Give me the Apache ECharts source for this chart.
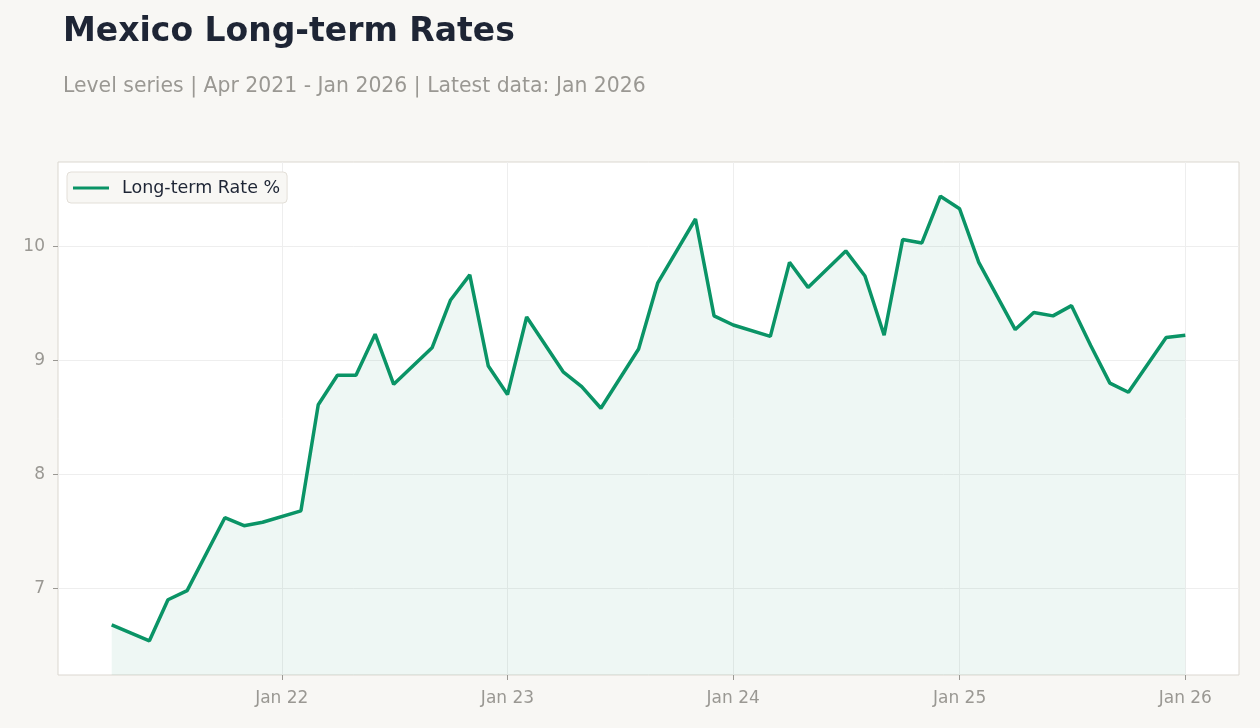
<!DOCTYPE html>
<html>
<head>
<meta charset="utf-8">
<script src="https://cdn.jsdelivr.net/npm/echarts@6/dist/echarts.min.js"></script>
<style>
  html, body { margin: 0; padding: 0; background: #f8f7f4; }
  #chart { width: 1260px; height: 728px; }
</style>
</head>
<body>
<div id="chart"></div>
<script>
// monthly observations (some months absent in the source)
var months = ['2021-04','2021-06','2021-07','2021-08','2021-10','2021-11','2021-12',
  '2022-02','2022-03','2022-04','2022-05','2022-06','2022-07','2022-09','2022-10','2022-11','2022-12',
  '2023-01','2023-02','2023-04','2023-05','2023-06','2023-08','2023-09','2023-11','2023-12',
  '2024-01','2024-03','2024-04','2024-05','2024-07','2024-08','2024-09','2024-10','2024-11','2024-12',
  '2025-01','2025-02','2025-04','2025-05','2025-06','2025-07','2025-08','2025-09','2025-10','2025-12',
  '2026-01'];
var rates = [6.68, 6.54, 6.90, 6.98, 7.62, 7.55, 7.58,
  7.68, 8.61, 8.87, 8.87, 9.23, 8.79, 9.11, 9.53, 9.75, 8.95,
  8.70, 9.38, 8.90, 8.77, 8.58, 9.10, 9.68, 10.24, 9.39,
  9.31, 9.21, 9.86, 9.64, 9.96, 9.74, 9.22, 10.06, 10.03, 10.44,
  10.33, 9.86, 9.27, 9.42, 9.39, 9.48, 9.13, 8.80, 8.72, 9.20,
  9.22];
var xTickYears = [2022, 2023, 2024, 2025, 2026];
var yTicks = [7, 8, 9, 10];

function toTime(s) {
  var p = s.split('-');
  return new Date(+p[0], +p[1] - 1, 1).getTime();
}

var seriesData = months.map(function (m, i) { return [toTime(m), rates[i]]; });
var xTicks = xTickYears.map(function (y) { return new Date(y, 0, 1).getTime(); });

var chart = echarts.init(document.getElementById('chart'));
var font = 'DejaVu Sans';
var green = '#0a9466';
var option = {
  backgroundColor: '#f8f7f4',
  animation: false,
  textStyle: { fontFamily: font },
  title: [{
    text: 'Mexico Long-term Rates',
    left: 58, top: 11,
    textStyle: { fontFamily: font, fontSize: 33, fontWeight: 'bold', color: '#1e2535' }
  }, {
    text: 'Level series | Apr 2021 - Jan 2026 | Latest data: Jan 2026',
    left: 58, top: 72,
    textStyle: { fontFamily: font, fontSize: 20.4, fontWeight: 'normal', color: '#9a9893' }
  }],
  legend: {
    left: 67, top: 172,
    padding: [7, 7, 6, 6],
    itemWidth: 36, itemHeight: 3,
    backgroundColor: '#f8f7f4',
    borderColor: '#e3dfd8', borderWidth: 1, borderRadius: 4,
    textStyle: { fontFamily: font, fontSize: 17.5, color: '#1e2535', padding: [0, 0, 0, 8] },
    data: [{ name: 'Long-term Rate %', icon: 'rect' }]
  },
  grid: {
    left: 58, right: 21, top: 162, bottom: 53,
    show: true, backgroundColor: '#ffffff',
    borderColor: '#dbd7d0', borderWidth: 1
  },
  xAxis: {
    type: 'value',
    min: function (v) { return v.min - (v.max - v.min) * 0.05; },
    max: function (v) { return v.max + (v.max - v.min) * 0.05; },
    axisLine: { show: false },
    axisTick: { show: true, customValues: xTicks, length: 5, lineStyle: { color: '#9a9893' } },
    axisLabel: {
      customValues: xTicks,
      fontFamily: font, fontSize: 17, color: '#9a9893', margin: 15,
      formatter: function (val) {
        return 'Jan ' + String(new Date(val).getFullYear()).slice(2);
      }
    },
    splitLine: { show: true, lineStyle: { color: '#eeeeee', width: 1 } }
  },
  yAxis: {
    type: 'value',
    min: function (v) { return v.min - 0.3; },
    max: function (v) { return v.max + 0.3; },
    axisLine: { show: false },
    axisTick: { show: true, customValues: yTicks, length: 5, lineStyle: { color: '#9a9893' } },
    axisLabel: {
      customValues: yTicks,
      fontFamily: font, fontSize: 17, color: '#9a9893', margin: 13
    },
    splitLine: { show: true, lineStyle: { color: '#eeeeee', width: 1 } }
  },
  series: [{
    name: 'Long-term Rate %',
    type: 'line',
    data: seriesData,
    symbol: 'none',
    lineStyle: { color: green, width: 3.5 },
    itemStyle: { color: green },
    areaStyle: { color: 'rgba(10,148,102,0.1)', origin: 'start' }
  }]
};
chart.setOption(option);
</script>
</body>
</html>
